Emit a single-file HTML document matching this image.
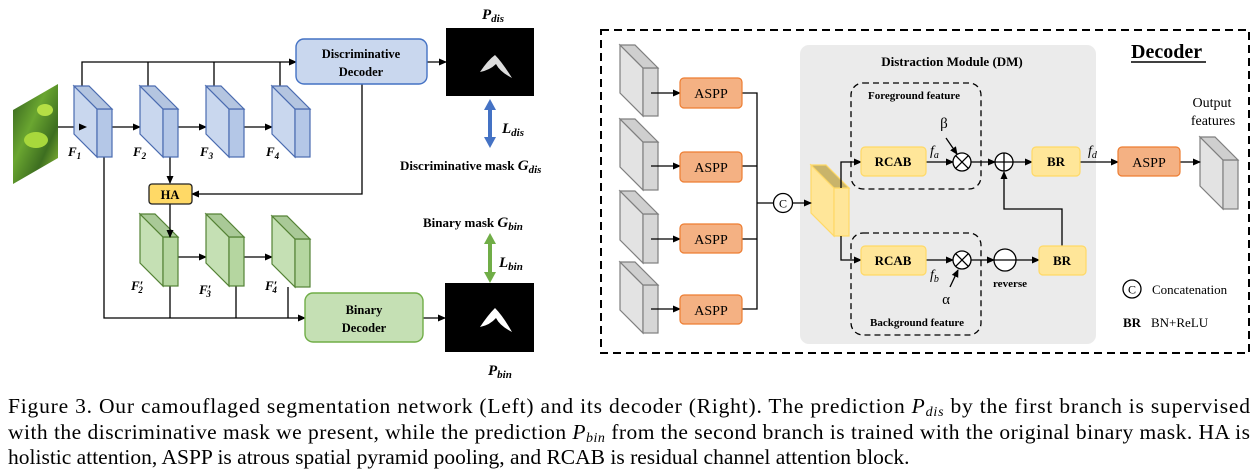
<!DOCTYPE html>
<html><head><meta charset="utf-8"><style>
html,body{margin:0;padding:0;background:#fff;}
svg{display:block;}
.b{font-family:"Liberation Serif",serif;font-weight:bold;}
.r{font-family:"Liberation Serif",serif;}
.i{font-family:"Liberation Serif",serif;font-style:italic;}
</style></head><body>
<svg width="1260" height="472" viewBox="0 0 1260 472" xmlns="http://www.w3.org/2000/svg">
<defs>
<marker id="a" markerWidth="8" markerHeight="8" refX="7" refY="4" orient="auto" markerUnits="userSpaceOnUse"><path d="M0,0.5 L8,4 L0,7.5z" fill="#000"/></marker>
<linearGradient id="leaf" x1="0" y1="0" x2="1" y2="1"><stop offset="0" stop-color="#2e5a1c"/><stop offset="0.4" stop-color="#6aa630"/><stop offset="0.7" stop-color="#3d6e20"/><stop offset="1" stop-color="#9ccc3a"/></linearGradient>
</defs>
<g fill="none" stroke="#000" stroke-width="1.3">
<polygon points="13,110 58,84 58,158 13,184" fill="url(#leaf)" stroke="none"/>
<ellipse cx="36" cy="140" rx="12" ry="8" fill="#a8d83c" stroke="none"/>
<ellipse cx="45" cy="110" rx="8" ry="6" fill="#b5df45" stroke="none"/>
<polyline points="82,86 82,62 296,62" marker-end="url(#a)"/>
<line x1="148" y1="86" x2="148" y2="62"/><line x1="214" y1="86" x2="214" y2="62"/><line x1="280" y1="86" x2="280" y2="62"/>
<line x1="58" y1="127" x2="85" y2="127" marker-end="url(#a)"/>
<line x1="112" y1="127" x2="140" y2="127" marker-end="url(#a)"/>
<line x1="178" y1="127" x2="206" y2="127" marker-end="url(#a)"/>
<line x1="244" y1="127" x2="272" y2="127" marker-end="url(#a)"/>
<line x1="170" y1="157" x2="170" y2="183" marker-end="url(#a)"/>
<polyline points="362,84 362,194 192,194" marker-end="url(#a)"/>
<line x1="178" y1="257" x2="206" y2="257" marker-end="url(#a)"/>
<line x1="244" y1="257" x2="272" y2="257" marker-end="url(#a)"/>
<polyline points="104,157 104,318 305,318" marker-end="url(#a)"/>
<line x1="170" y1="286" x2="170" y2="318"/><line x1="236" y1="286" x2="236" y2="318"/><line x1="288" y1="287" x2="288" y2="318"/>
<line x1="427" y1="62" x2="446" y2="62" marker-end="url(#a)"/>
<line x1="423" y1="318" x2="445" y2="318" marker-end="url(#a)"/>
</g>
<g fill="#c9d7ee" stroke="#4a6bb0" stroke-width="1.2">
<polygon points="74,86 97,109 97,157 74,134"/><rect x="97" y="109" width="15" height="48" fill="#b4c7e7"/><polygon points="74,86 89,86 112,109 97,109" fill="#b4c5e0"/>
<polygon points="140,86 163,109 163,157 140,134"/><rect x="163" y="109" width="15" height="48" fill="#b4c7e7"/><polygon points="140,86 155,86 178,109 163,109" fill="#b4c5e0"/>
<polygon points="206,86 229,109 229,157 206,134"/><rect x="229" y="109" width="15" height="48" fill="#b4c7e7"/><polygon points="206,86 221,86 244,109 229,109" fill="#b4c5e0"/>
<polygon points="272,86 295,109 295,157 272,134"/><rect x="295" y="109" width="15" height="48" fill="#b4c7e7"/><polygon points="272,86 287,86 310,109 295,109" fill="#b4c5e0"/>
</g>
<g fill="#c5e0b4" stroke="#548235" stroke-width="1.2">
<polygon points="140,214 163,237 163,286 140,263"/><rect x="163" y="237" width="15" height="49" fill="#b5d6a0"/><polygon points="140,214 155,214 178,237 163,237" fill="#a9c997"/>
<polygon points="206,214 229,237 229,286 206,263"/><rect x="229" y="237" width="15" height="49" fill="#b5d6a0"/><polygon points="206,214 221,214 244,237 229,237" fill="#a9c997"/>
<polygon points="272,216 295,239 295,287 272,264"/><rect x="295" y="239" width="15" height="48" fill="#b5d6a0"/><polygon points="272,216 287,216 310,239 295,239" fill="#a9c997"/>
</g>
<line x1="170" y1="204" x2="170" y2="237" stroke="#000" stroke-width="1.3" marker-end="url(#a)"/>
<line x1="85" y1="127" x2="86" y2="127" stroke="#000" marker-end="url(#a)"/>
<g class="i b" font-size="13" fill="#000">
<text x="68" y="156">F<tspan font-size="9" dy="3">1</tspan></text>
<text x="133" y="156">F<tspan font-size="9" dy="3">2</tspan></text>
<text x="200" y="156">F<tspan font-size="9" dy="3">3</tspan></text>
<text x="266" y="156">F<tspan font-size="9" dy="3">4</tspan></text>
<text x="131" y="290">F′<tspan font-size="9" dy="3" dx="-5">2</tspan></text>
<text x="199" y="294">F′<tspan font-size="9" dy="3" dx="-5">3</tspan></text>
<text x="265" y="290">F′<tspan font-size="9" dy="3" dx="-5">4</tspan></text>
</g>
<rect x="296" y="39" width="131" height="45" rx="8" fill="#c9d7ee" stroke="#4472c4" stroke-width="1.4"/>
<text class="b" font-size="12.5" x="361" y="58" text-anchor="middle">Discriminative</text>
<text class="b" font-size="12.5" x="361" y="76" text-anchor="middle">Decoder</text>
<rect x="305" y="293" width="118" height="49" rx="8" fill="#c5e0b4" stroke="#70ad47" stroke-width="1.4"/>
<text class="b" font-size="12.5" x="364" y="314" text-anchor="middle">Binary</text>
<text class="b" font-size="12.5" x="364" y="332" text-anchor="middle">Decoder</text>
<rect x="149" y="184" width="43" height="20" rx="3" fill="#ffd966" stroke="#222" stroke-width="1.3"/>
<text class="b" font-size="12.5" x="170" y="199" text-anchor="middle">HA</text>
<rect x="446" y="28" width="88" height="68" fill="#000"/>
<path d="M480,72 Q488,60 495,55 Q502,62 512,78 Q500,72 496,64 Q490,70 480,72z" fill="#ddd"/>
<rect x="445" y="283" width="89" height="69" fill="#000"/>
<path d="M480,327 Q488,315 495,308 Q503,316 512,332 Q500,326 496,318 Q490,325 480,327z" fill="#fff"/>
<text class="i b" font-size="15" x="482" y="19">P<tspan font-size="11" dy="3">dis</tspan></text>
<text class="i b" font-size="15" x="488" y="375">P<tspan font-size="11" dy="3">bin</tspan></text>
<g fill="#4472c4"><polygon points="490,99 484,110 496,110"/><rect x="488" y="109" width="4" height="29"/><polygon points="490,148 484,137 496,137"/></g>
<g fill="#70ad47"><polygon points="490,233 484,244 496,244"/><rect x="488" y="243" width="4" height="30"/><polygon points="490,283 484,272 496,272"/></g>
<text class="i b" font-size="15" x="502" y="133">L<tspan font-size="11" dy="3">dis</tspan></text>
<text class="i b" font-size="15" x="499" y="267">L<tspan font-size="11" dy="3">bin</tspan></text>
<text class="b" font-size="13" x="400" y="170">Discriminative mask <tspan class="i" font-size="15">G</tspan><tspan class="i" font-size="11" dy="3">dis</tspan></text>
<text class="b" font-size="13" x="423" y="227">Binary mask <tspan class="i" font-size="15">G</tspan><tspan class="i" font-size="11" dy="3">bin</tspan></text>

<rect x="601" y="30" width="648" height="323" fill="none" stroke="#000" stroke-width="2" stroke-dasharray="8,5"/>
<rect x="800" y="45" width="296" height="299" rx="9" fill="#ebebeb"/>
<text class="b" font-size="13" x="952" y="66" text-anchor="middle">Distraction Module (DM)</text>
<text class="b" font-size="20" x="1131" y="58">Decoder</text>
<line x1="1131" y1="62" x2="1206" y2="62" stroke="#000" stroke-width="1.5"/>
<g fill="#e3e3e3" stroke="#7f7f7f" stroke-width="1.2">
<polygon points="620,45 643,68 643,116 620,93"/><rect x="643" y="68" width="15" height="48" fill="#d6d6d6"/><polygon points="620,45 635,45 658,68 643,68" fill="#cfcfcf"/>
<polygon points="620,119 643,142 643,190 620,167"/><rect x="643" y="142" width="15" height="48" fill="#d6d6d6"/><polygon points="620,119 635,119 658,142 643,142" fill="#cfcfcf"/>
<polygon points="620,191 643,214 643,263 620,240"/><rect x="643" y="214" width="15" height="49" fill="#d6d6d6"/><polygon points="620,191 635,191 658,214 643,214" fill="#cfcfcf"/>
<polygon points="620,262 643,285 643,333 620,310"/><rect x="643" y="285" width="15" height="48" fill="#d6d6d6"/><polygon points="620,262 635,262 658,285 643,285" fill="#cfcfcf"/>
<polygon points="1200,137 1223,160 1223,209 1200,186"/><rect x="1223" y="160" width="15" height="49" fill="#d6d6d6"/><polygon points="1200,137 1215,137 1238,160 1223,160" fill="#cfcfcf"/>
</g>
<g fill="#ffe699" stroke="#ffd966" stroke-width="1.2">
<polygon points="811,165 834,188 834,236 811,213"/><rect x="834" y="188" width="15" height="48"/><polygon points="811,165 826,165 849,188 834,188" fill="#c9b46a"/>
</g>
<g fill="none" stroke="#000" stroke-width="1.3">
<line x1="651" y1="93" x2="680" y2="93" marker-end="url(#a)"/>
<line x1="651" y1="166" x2="680" y2="166" marker-end="url(#a)"/>
<line x1="651" y1="239" x2="680" y2="239" marker-end="url(#a)"/>
<line x1="651" y1="309" x2="680" y2="309" marker-end="url(#a)"/>
<polyline points="742,93 757,93 757,309 742,309"/>
<line x1="742" y1="166" x2="757" y2="166"/><line x1="742" y1="239" x2="757" y2="239"/>
<line x1="757" y1="203" x2="774" y2="203"/>
<line x1="792" y1="203" x2="811" y2="203" marker-end="url(#a)"/>
<polyline points="841,188 841,162 861,162" marker-end="url(#a)"/>
<polyline points="841,236 841,260 861,260" marker-end="url(#a)"/>
<line x1="926" y1="162" x2="953" y2="162" marker-end="url(#a)"/>
<line x1="971" y1="162" x2="995" y2="162" marker-end="url(#a)"/>
<line x1="1013" y1="162" x2="1032" y2="162" marker-end="url(#a)"/>
<line x1="1080" y1="162" x2="1118" y2="162" marker-end="url(#a)"/>
<line x1="1180" y1="162" x2="1200" y2="162" marker-end="url(#a)"/>
<line x1="926" y1="260" x2="953" y2="260" marker-end="url(#a)"/>
<line x1="971" y1="260" x2="994" y2="260" marker-end="url(#a)"/>
<line x1="1016" y1="260" x2="1039" y2="260" marker-end="url(#a)"/>
<polyline points="1062,246 1062,209 1004,209 1004,172" marker-end="url(#a)"/>
<line x1="946" y1="138" x2="957" y2="154" marker-end="url(#a)"/>
<line x1="950" y1="287" x2="958" y2="270" marker-end="url(#a)"/>
<rect x="851" y="83" width="130" height="106" rx="12" stroke-dasharray="6,4"/>
<rect x="851" y="233" width="130" height="102" rx="12" stroke-dasharray="6,4"/>
<circle cx="783" cy="203" r="9.5" fill="#fff"/>
<circle cx="962" cy="162" r="9" fill="#fff"/><path d="M955.6,155.6 L968.4,168.4 M968.4,155.6 L955.6,168.4"/>
<circle cx="962" cy="260" r="9" fill="#fff"/><path d="M955.6,253.6 L968.4,266.4 M968.4,253.6 L955.6,266.4"/>
<circle cx="1004" cy="162" r="9" fill="#fff"/><path d="M995,162 H1013 M1004,153 V171"/>
<circle cx="1005" cy="260" r="11" fill="#fff"/><path d="M994,260 H1016"/>
<circle cx="1132" cy="289" r="9" fill="#fff"/>
</g>
<text class="r" font-size="12" x="783" y="207.5" text-anchor="middle">C</text>
<text class="r" font-size="12" x="1132" y="293.5" text-anchor="middle">C</text>
<g fill="#f4b183" stroke="#ed7d31" stroke-width="1.2">
<rect x="680" y="78" width="62" height="30" rx="4"/><rect x="680" y="152" width="62" height="30" rx="4"/>
<rect x="680" y="224" width="62" height="29" rx="4"/><rect x="680" y="295" width="62" height="29" rx="4"/>
<rect x="1118" y="147" width="62" height="29" rx="4"/>
</g>
<g class="r" font-size="14" text-anchor="middle">
<text x="711" y="98">ASPP</text><text x="711" y="172">ASPP</text><text x="711" y="244">ASPP</text><text x="711" y="315">ASPP</text><text x="1149" y="167">ASPP</text>
</g>
<g fill="#ffe699" stroke="#ffd966" stroke-width="1.2">
<rect x="861" y="147" width="65" height="29" rx="4"/><rect x="861" y="246" width="65" height="29" rx="4"/>
<rect x="1032" y="147" width="48" height="29" rx="4"/><rect x="1039" y="246" width="47" height="29" rx="4"/>
</g>
<g class="b" font-size="13" text-anchor="middle">
<text x="893" y="166">RCAB</text><text x="893" y="265">RCAB</text><text x="1056" y="166">BR</text><text x="1062" y="265">BR</text>
</g>
<text class="b" font-size="11" x="914" y="99" text-anchor="middle">Foreground feature</text>
<text class="b" font-size="11" x="917" y="326" text-anchor="middle">Background feature</text>
<text class="b" font-size="11" x="1010" y="287" text-anchor="middle">reverse</text>
<text class="r" font-size="15" x="944" y="128" text-anchor="middle">β</text>
<text class="r" font-size="15" x="946" y="304" text-anchor="middle">α</text>
<text class="i" font-size="14" x="930" y="155">f<tspan font-size="10" dy="3">a</tspan></text>
<text class="i" font-size="14" x="930" y="279">f<tspan font-size="10" dy="3">b</tspan></text>
<text class="i" font-size="14" x="1088" y="155">f<tspan font-size="10" dy="3">d</tspan></text>
<text class="r" font-size="14" x="1212" y="107" text-anchor="middle">Output</text>
<text class="r" font-size="14" x="1213" y="125" text-anchor="middle">features</text>
<text class="r" font-size="13" x="1152" y="294">Concatenation</text>
<text class="b" font-size="13" x="1123" y="327">BR</text>
<text class="r" font-size="13" x="1151" y="327">BN+ReLU</text>
<g class="r" font-size="21.5">
<text x="8" y="413" textLength="1242" lengthAdjust="spacing">Figure 3.  Our camouflaged segmentation network (Left) and its decoder (Right).  The prediction <tspan class="i">P</tspan><tspan class="i" font-size="14" dy="3">dis</tspan><tspan dy="-3"> by the first branch is supervised</tspan></text>
<text x="8" y="439" textLength="1242" lengthAdjust="spacing">with the discriminative mask we present, while the prediction <tspan class="i">P</tspan><tspan class="i" font-size="14" dy="3">bin</tspan><tspan dy="-3"> from the second branch is trained with the original binary mask. HA is</tspan></text>
<text x="8" y="464">holistic attention, ASPP is atrous spatial pyramid pooling, and RCAB is residual channel attention block.</text>
</g>
</svg>
</body></html>
